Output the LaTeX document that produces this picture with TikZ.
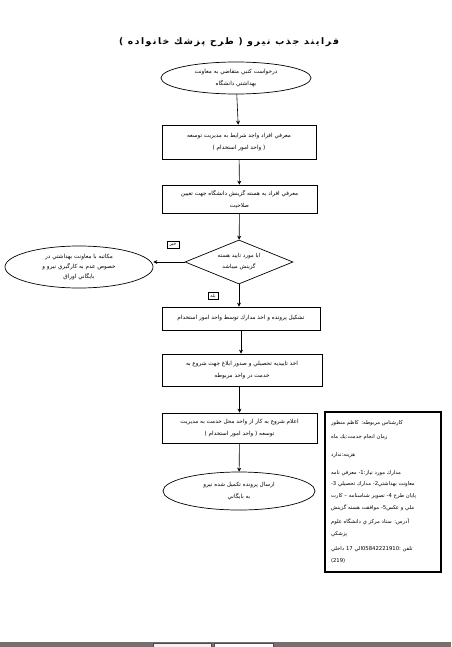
\documentclass[tikz,border=0pt]{standalone}
\usepackage{fontspec}
\usetikzlibrary{arrows.meta,shapes.geometric,positioning}
\TeXXeTstate=1
\newfontfamily\farsi[Script=Arabic]{DejaVu Sans}
\newfontfamily\farsititle[Script=Arabic,LetterSpace=18]{DejaVu Sans}
\newcommand{\fa}[1]{\beginR #1\endR}
\newcommand{\num}[1]{\beginL #1\endL}
\definecolor{barcol}{RGB}{120,110,110}
\tikzset{
	stepbox/.style={draw,rectangle,line width=0.7pt,inner sep=1pt,align=center,font=\farsi\fontsize{5.7}{12}\selectfont},
	oval/.style={draw,ellipse,line width=0.7pt,inner sep=0pt,align=center,font=\farsi\fontsize{5.7}{12}\selectfont},
	ask/.style={draw,diamond,line width=0.7pt,inner sep=-4pt,shape aspect=2.45,align=center,font=\farsi\fontsize{5.5}{11}\selectfont},
	tag/.style={draw,rectangle,line width=0.6pt,inner xsep=2.5pt,inner ysep=1.5pt,font=\farsi\fontsize{4.5}{5}\selectfont},
	infobox/.style={draw,rectangle,line width=2pt,inner sep=0pt,align=left,font=\farsi\fontsize{5.3}{11.8}\selectfont},
	diredge/.style={->,>={Stealth[width=4pt,length=4pt]},line width=0.6pt}
}

\begin{document}
\begin{tikzpicture}[x=1pt,y=-1pt]
	\useasboundingbox (0,0) rectangle (451,647);
	%%%title
	\node[font=\farsititle\bfseries\fontsize{9}{10}\selectfont] (title) at (229,42) {\fa{فرايند جذب نيرو ( طرح پزشك خانواده )}};
	
	%%%main flow
	\node[oval,minimum width=150pt,minimum height=32pt] (req) at (236,78) {\fa{درخواست كتبي متقاضي به معاونت}\\\fa{بهداشتي دانشگاه}};
	\node[stepbox,minimum width=154pt,minimum height=34pt] (intro) at (239,142) {\fa{معرفي افراد واجد شرايط به مديريت توسعه}\\\fa{( واحد امور استخدام )}};
	\node[stepbox,minimum width=155pt,minimum height=28pt] (select) at (239.5,199) {\fa{معرفي افراد به هسته گزينش دانشگاه جهت تعيين}\\\fa{صلاحيت}};
	\node[ask,minimum width=108pt,minimum height=44pt] (ok) at (239,262) {\fa{ايا مورد تاييد هسته}\\\fa{گزينش ميباشد}};
	\node[oval,minimum width=148pt,minimum height=42pt] (reject) at (79,267) {\fa{مكاتبه با معاونت بهداشتي در}\\[-2pt]\fa{خصوص عدم به كارگيري نيرو و}\\[-2pt]\fa{بايگاني اوراق}};
	\node[stepbox,minimum width=158pt,minimum height=23pt] (file) at (241,318.5) {\fa{تشكيل پرونده و اخذ مدارك توسط واحد امور استخدام}};
	\node[stepbox,minimum width=160pt,minimum height=32pt] (notice) at (242,370) {\fa{اخذ تاييديه تحصيلي و صدور ابلاغ جهت شروع به}\\\fa{خدمت در واحد مربوطه}};
	\node[stepbox,minimum width=155pt,minimum height=30pt] (start) at (239.5,428) {\fa{اعلام شروع به كار از واحد محل خدمت به مديريت}\\\fa{توسعه ( واحد امور استخدام )}};
	\node[oval,minimum width=152pt,minimum height=38pt] (archive) at (239,491) {\fa{ارسال پرونده تكميل شده نيرو}\\\fa{به بايگاني}};
	
	%%%yes / no
	\node[tag] (no) at (173,245) {خير};
	\node[tag] (yes) at (213,296) {بله};
	
	\draw[diredge] (req) -- (intro);
	\draw[diredge] (intro) -- (select);
	\draw[diredge] (select) -- (ok);
	\draw[diredge] (ok) -- (ok |- file.north);
	\draw[diredge] (ok.west) -- (ok.west -| reject.east);
	\draw[diredge] (file) -- (file |- notice.north);
	\draw[diredge] (notice.south -| start) -- (start);
	\draw[diredge] (start) -- (archive);
	
	%%%info
	\node[infobox,minimum width=116pt,minimum height=160pt,text width=104pt] (info) at (383,492) {\fa{كارشناس مربوطه: كاظم منظور}\\[2pt]
		\fa{زمان انجام خدمت:يك ماه}\\[6pt]
		\fa{هزينه:ندارد}\\[6pt]
		\fa{مدارك مورد نياز:1- معرفي نامه}\\
		\fa{معاونت بهداشتي2- مدارك تحصيلي 3-}\\
		\fa{پايان طرح 4- تصوير شناسنامه – كارت}\\
		\fa{ملي و عكس5- موافقت هسته گزينش}\\[2pt]
		\fa{آدرس: ستاد مركز ي دانشگاه علوم}\\
		\fa{پزشكي}\\[4pt]
		\fa{تلفن :\num{05842221910}الي \num{17} داخلي}\\
		\fa{(\num{219})}};
	
	%%%bottom bar
	\fill[barcol] (0,642) rectangle (451,647);
	\filldraw[fill=gray!10,draw=black!70] (153,643) rectangle (211,647);
	\filldraw[fill=white,draw=black!70] (214,643) rectangle (273,647);
\end{tikzpicture}
\end{document}
